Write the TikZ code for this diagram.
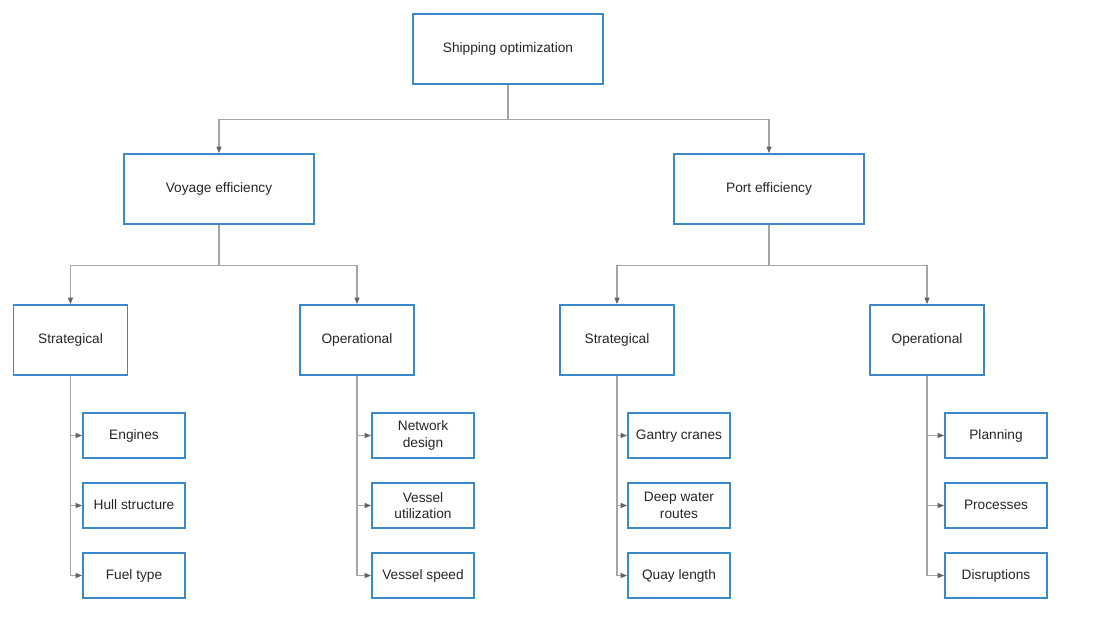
\documentclass[tikz,border=0pt]{standalone}
\usepackage{fontspec}
\setmainfont{Liberation Sans}
\usetikzlibrary{arrows.meta}
\definecolor{boxblue}{RGB}{58,138,203}
\definecolor{linegray}{RGB}{165,165,165}
\definecolor{tipgray}{RGB}{100,100,100}
\begin{document}
\begin{tikzpicture}[x=1pt,y=-1pt,
  box/.style={draw=boxblue,line width=1.8pt,fill=white,font=\fontsize{13.7}{16.5}\selectfont,
    align=center,inner sep=0pt,text=black!85},
  one/.style={text height=10pt,text depth=3pt},
  big/.style={box,one,minimum width=190pt,minimum height=70pt},
  mid/.style={box,one,minimum width=114pt,minimum height=70pt},
  leaf/.style={box,minimum width=102pt,minimum height=45pt},
  leafone/.style={leaf,one},
  link/.style={draw=linegray,line width=1.1pt,-{Triangle[length=6.5pt,width=5pt,color=tipgray]}}]
\useasboundingbox (0,0) rectangle (1119,635);
\fill[white] (0,0) rectangle (1119,635);

% top level and the two main branches
\node[big] (root) at (508,49) {Shipping optimization};
\node[big] (voy) at (219,189) {Voyage efficiency};
\node[big] (port) at (769,189) {Port efficiency};

% second level
\node[mid] (vs) at (70.5,340) {Strategical};
\node[mid] (vo) at (357,340) {Operational};
\node[mid] (ps) at (617,340) {Strategical};
\node[mid] (po) at (927,340) {Operational};

% leaves
\node[leafone] (l1) at (134,435.5) {Engines};
\node[leafone] (l2) at (134,505.5) {Hull structure};
\node[leafone] (l3) at (134,575.5) {Fuel type};
\node[leaf] (l4) at (423,435.5) {Network\\design};
\node[leaf] (l5) at (423,505.5) {Vessel\\utilization};
\node[leafone] (l6) at (423,575.5) {Vessel speed};
\node[leafone] (l7) at (679,435.5) {Gantry cranes};
\node[leaf] (l8) at (679,505.5) {Deep water\\routes};
\node[leafone] (l9) at (679,575.5) {Quay length};
\node[leafone] (l10) at (996,435.5) {Planning};
\node[leafone] (l11) at (996,505.5) {Processes};
\node[leafone] (l12) at (996,575.5) {Disruptions};

% tree connectors
\foreach \p/\c in {root/voy,root/port}
  \draw[link] (\p.south) -- ++(0,35) -| (\c.north);
\foreach \p/\c in {voy/vs,voy/vo,port/ps,port/po}
  \draw[link] (\p.south) -- ++(0,41) -| (\c.north);
\foreach \p/\a/\b/\c in {vs/l1/l2/l3,vo/l4/l5/l6,ps/l7/l8/l9,po/l10/l11/l12}{
  \draw[link] (\p.south) |- (\a.west);
  \draw[link] (\p.south) |- (\b.west);
  \draw[link] (\p.south) |- (\c.west);
}
\end{tikzpicture}
\end{document}
